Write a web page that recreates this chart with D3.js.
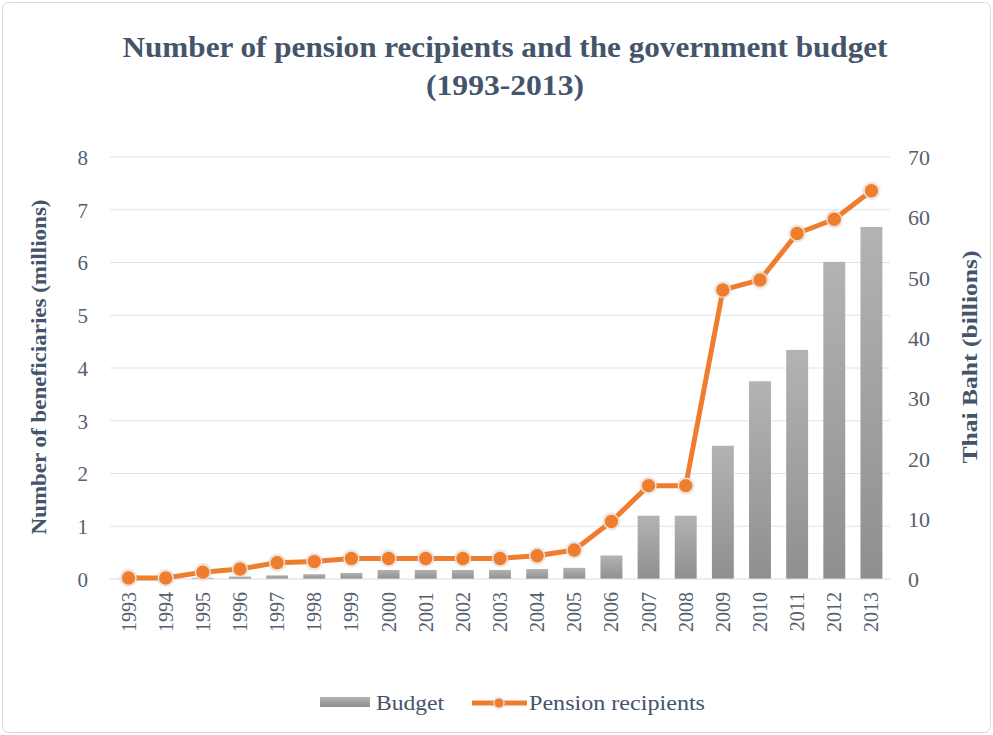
<!DOCTYPE html>
<html><head><meta charset="utf-8">
<script src="https://cdn.jsdelivr.net/npm/d3@7"></script>
<style>body{margin:0;background:#fff}svg{display:block}</style>
</head><body>
<svg id="c" width="993" height="735"></svg>
<script>
const years = ["1993","1994","1995","1996","1997","1998","1999","2000","2001","2002","2003","2004","2005","2006","2007","2008","2009","2010","2011","2012","2013"];
const budget = [0.05,0.1,0.2,0.4,0.6,0.8,1.0,1.5,1.5,1.5,1.5,1.65,1.85,3.9,10.5,10.5,22.1,32.8,38.0,52.6,58.4];
const pension = [0.02,0.02,0.13,0.19,0.31,0.33,0.39,0.39,0.39,0.39,0.39,0.44,0.55,1.09,1.77,1.77,5.48,5.67,6.55,6.82,7.36];
const leftTicks = [0,1,2,3,4,5,6,7,8];
const rightTicks = [0,10,20,30,40,50,60,70];

const txt = "#44546a";
const tick = "#555f6e";
const svg = d3.select("#c");
svg.append("rect").attr("x",2.5).attr("y",2.5).attr("width",988).attr("height",730).attr("rx",6)
  .attr("fill","#fff").attr("stroke","#d9d9d9");

const defs = svg.append("defs");
const g = defs.append("linearGradient").attr("id","bg").attr("x1",0).attr("y1",0).attr("x2",0).attr("y2",1);
g.append("stop").attr("offset","0%").attr("stop-color","#b3b3b3");
g.append("stop").attr("offset","100%").attr("stop-color","#8f8f8f");
const f = defs.append("filter").attr("id","glow").attr("x","-50%").attr("y","-50%").attr("width","200%").attr("height","200%");
f.append("feGaussianBlur").attr("in","SourceAlpha").attr("stdDeviation",1.2).attr("result","b");
f.append("feFlood").attr("flood-color","#bbbbbb");
f.append("feComposite").attr("in2","b").attr("operator","in").attr("result","s");
const fm = f.append("feMerge"); fm.append("feMergeNode").attr("in","s"); fm.append("feMergeNode").attr("in","SourceGraphic");

const L = 110, R = 890, T = 157, B = 579;
const x = d3.scaleBand().domain(years).range([L,R]).paddingInner(0.41).paddingOuter(0.205);
const xc = d => x(d) + x.bandwidth()/2;
const yL = d3.scaleLinear().domain([0,8]).range([B,T]);
const yR = d3.scaleLinear().domain([0,70]).range([B,T]);

// title
svg.append("text").attr("x",505).attr("y",57).attr("text-anchor","middle")
  .attr("font-family","Liberation Serif").attr("font-weight","bold").attr("font-size",30).attr("fill",txt)
  .attr("textLength",765).attr("lengthAdjust","spacingAndGlyphs")
  .text("Number of pension recipients and the government budget");
svg.append("text").attr("x",505).attr("y",95).attr("text-anchor","middle")
  .attr("font-family","Liberation Serif").attr("font-weight","bold").attr("font-size",30).attr("fill",txt)
  .attr("textLength",158).attr("lengthAdjust","spacingAndGlyphs")
  .text("(1993-2013)");

// gridlines
svg.append("g").selectAll("line").data(leftTicks.slice(1)).join("line")
  .attr("x1",L).attr("x2",R).attr("y1",d=>yL(d)).attr("y2",d=>yL(d))
  .attr("stroke","#dde4ee").attr("stroke-width",1.2);

// left axis
const la = svg.append("g").attr("transform",`translate(${L},0)`)
  .call(d3.axisLeft(yL).tickValues(leftTicks).tickSize(0).tickPadding(22));
la.select(".domain").remove();
la.selectAll("text").attr("font-family","Liberation Serif").attr("font-size",21).attr("fill",tick).attr("dy","0.35em");

// right axis
const ra = svg.append("g").attr("transform",`translate(${R},0)`)
  .call(d3.axisRight(yR).tickValues(rightTicks).tickSize(0).tickPadding(18));
ra.select(".domain").remove();
ra.selectAll("text").attr("font-family","Liberation Serif").attr("font-size",22).attr("fill",tick).attr("dy","0.35em");

// bars
svg.append("g").selectAll("rect").data(years).join("rect")
  .attr("x",d=>x(d)).attr("width",x.bandwidth())
  .attr("y",(d,i)=>yR(budget[i])).attr("height",(d,i)=>B - yR(budget[i]))
  .attr("fill","url(#bg)");

// baseline
svg.append("line").attr("x1",L).attr("x2",R).attr("y1",B).attr("y2",B).attr("stroke","#d5dde8").attr("stroke-width",1.2);

// x axis
const xa = svg.append("g").attr("transform",`translate(0,${B})`)
  .call(d3.axisBottom(x).tickSize(0).tickPadding(0));
xa.select(".domain").remove();
xa.selectAll("text").attr("font-family","Liberation Serif").attr("font-size",20).attr("fill",tick)
  .attr("transform","rotate(-90)").attr("text-anchor","end").attr("x",-13).attr("y",0).attr("dy","0.35em");

// line
const line = d3.line().x((d,i)=>xc(years[i])).y(d=>yL(d));
svg.append("path").datum(pension).attr("d",line).attr("fill","none")
  .attr("stroke","#ef7d2d").attr("stroke-width",5).attr("stroke-linejoin","round");
svg.append("g").selectAll("circle").data(pension).join("circle")
  .attr("cx",(d,i)=>xc(years[i])).attr("cy",d=>yL(d)).attr("r",7.3)
  .attr("fill","#ef7d2d").attr("stroke","#f3e6dc").attr("stroke-width",1.2).attr("filter","url(#glow)");

// axis titles
svg.append("text").attr("transform","translate(46,367) rotate(-90)").attr("text-anchor","middle")
  .attr("font-family","Liberation Serif").attr("font-weight","bold").attr("font-size",21).attr("fill",txt)
  .attr("textLength",335).attr("lengthAdjust","spacingAndGlyphs")
  .text("Number of beneficiaries (millions)");
svg.append("text").attr("transform","translate(977,357) rotate(-90)").attr("text-anchor","middle")
  .attr("font-family","Liberation Serif").attr("font-weight","bold").attr("font-size",21).attr("fill",txt)
  .attr("textLength",213).attr("lengthAdjust","spacingAndGlyphs")
  .text("Thai Baht (billions)");

// legend
const lg = svg.append("g");
lg.append("rect").attr("x",320).attr("y",697).attr("width",50).attr("height",10).attr("fill","url(#bg)");
lg.append("text").attr("x",376).attr("y",710).attr("font-family","Liberation Serif").attr("font-size",21).attr("fill",txt)
  .attr("textLength",68).attr("lengthAdjust","spacingAndGlyphs").text("Budget");
lg.append("line").attr("x1",472).attr("x2",527).attr("y1",703).attr("y2",703).attr("stroke","#ef7d2d").attr("stroke-width",5);
lg.append("circle").attr("cx",499).attr("cy",703).attr("r",5).attr("fill","#ef7d2d").attr("stroke","#f3e6dc").attr("stroke-width",1).attr("filter","url(#glow)");
lg.append("text").attr("x",529).attr("y",710).attr("font-family","Liberation Serif").attr("font-size",21).attr("fill",txt)
  .attr("textLength",176).attr("lengthAdjust","spacingAndGlyphs").text("Pension recipients");
</script>
</body></html>
